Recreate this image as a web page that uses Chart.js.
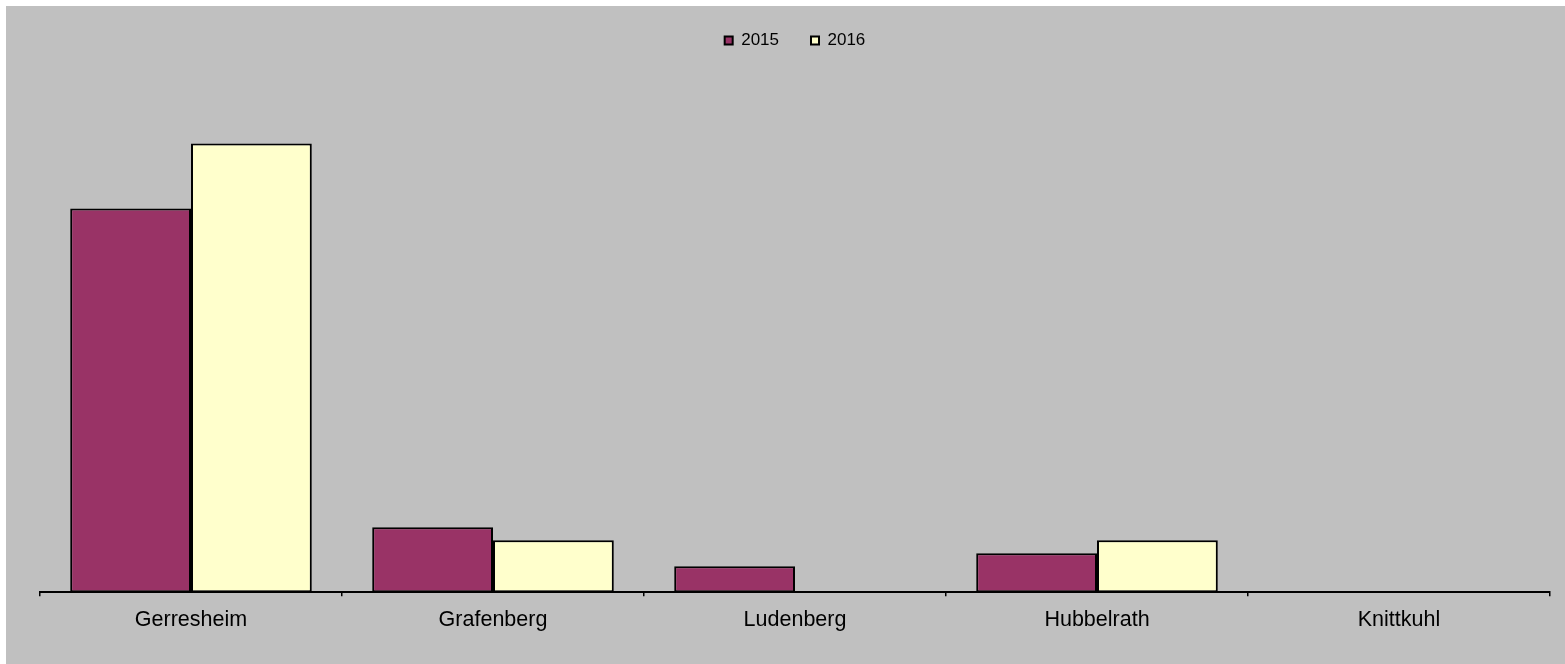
<!DOCTYPE html>
<html>
<head>
<meta charset="utf-8">
<script src="https://cdn.jsdelivr.net/npm/chart.js@4/dist/chart.umd.min.js"></script>
<style>
  html, body { margin: 0; padding: 0; background: #ffffff; }
  #wrap { width: 1565px; height: 664px; position: relative; }
</style>
</head>
<body>
<div id="wrap"><canvas id="c" width="1565" height="664"></canvas></div>
<script>
// Stadtteile and yearly counts
const districts = ['Gerresheim', 'Grafenberg', 'Ludenberg', 'Hubbelrath', 'Knittkuhl'];
const years = ['2015', '2016'];
const values2015 = [59, 10, 4, 6, 0];
const values2016 = [69, 8, 0, 8, 0];

// Grey panel behind the plot, leaving a thin white margin at top and left
const panelBackground = {
  id: 'panelBackground',
  beforeDraw(chart) {
    const ctx = chart.ctx;
    ctx.save();
    ctx.fillStyle = '#c0c0c0';
    ctx.fillRect(6, 6, chart.width - 6, chart.height - 6);
    ctx.restore();
  }
};

new Chart(document.getElementById('c'), {
  type: 'bar',
  data: {
    labels: districts,
    datasets: [
      {
        label: years[0],
        data: values2015,
        backgroundColor: '#993366',
        borderColor: '#000000',
        borderWidth: 2,
        borderSkipped: false
      },
      {
        label: years[1],
        data: values2016,
        backgroundColor: '#ffffcc',
        borderColor: '#000000',
        borderWidth: 2,
        borderSkipped: false
      }
    ]
  },
  options: {
    responsive: false,
    animation: false,
    layout: { padding: { left: 40, right: 15, top: 0, bottom: 20 } },
    datasets: {
      bar: { categoryPercentage: 0.8, barPercentage: 1.0 }
    },
    plugins: {
      legend: {
        position: 'top',
        align: 'center',
        labels: {
          boxWidth: 8,
          boxHeight: 8,
          padding: 32,
          color: '#000000',
          font: { family: 'Liberation Sans, Arial, sans-serif', size: 17, lineHeight: 1.0 }
        }
      },
      tooltip: { enabled: false }
    },
    scales: {
      x: {
        grid: {
          offset: true,
          drawOnChartArea: false,
          drawTicks: true,
          tickLength: 4,
          color: '#000000',
          lineWidth: 1.5
        },
        border: { display: true, color: '#000000', width: 2 },
        ticks: {
          color: '#000000',
          padding: 11,
          font: { family: 'Liberation Sans, Arial, sans-serif', size: 21.5 }
        }
      },
      y: {
        display: false,
        min: 0,
        max: 82
      }
    }
  },
  plugins: [panelBackground]
});
</script>
</body>
</html>
